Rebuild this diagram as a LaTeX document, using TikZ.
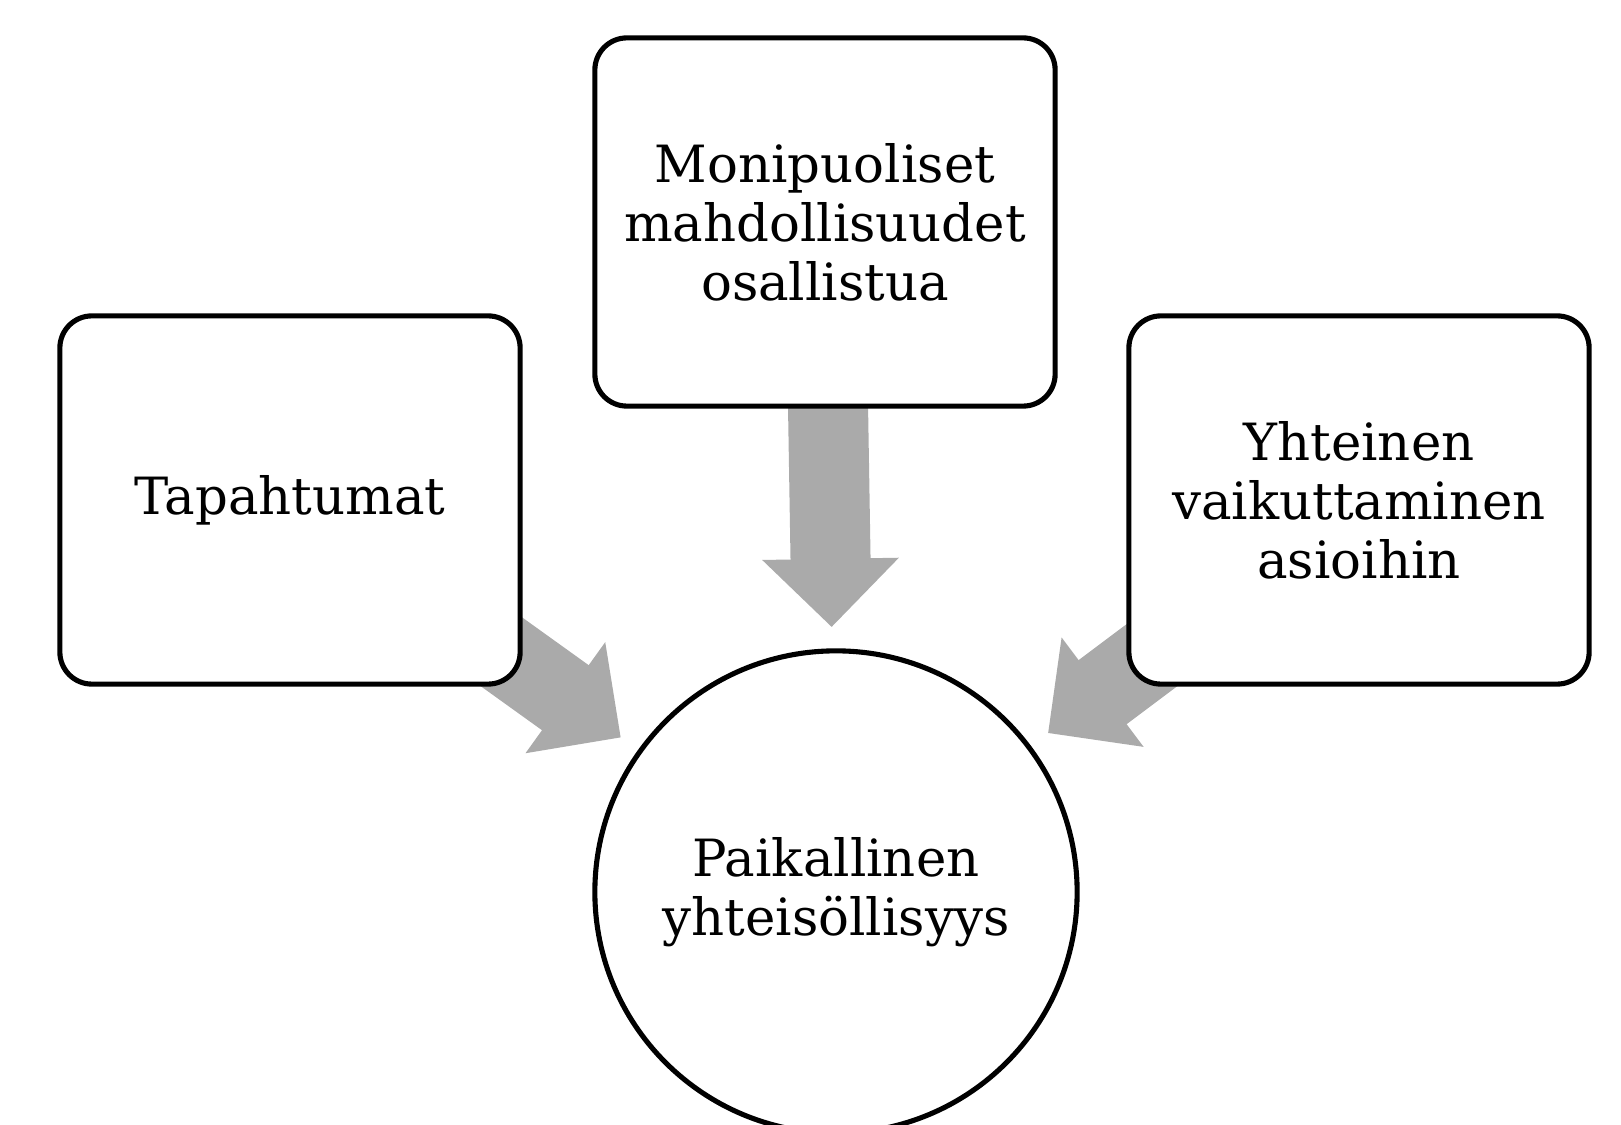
\documentclass[tikz,border=0pt]{standalone}
\usepackage{fontspec}
\setmainfont{DejaVu Serif}
\usetikzlibrary{arrows.meta,backgrounds}
\definecolor{flowgray}{HTML}{AAAAAA}

\begin{document}
\begin{tikzpicture}[x=0.01cm, y=-0.01cm,
        box/.style={draw, line width=1.45pt, rounded corners=0.32cm, fill=white,
            minimum width=4.6cm, minimum height=3.68cm, align=center,
            font=\fontsize{14.6}{16.8}\selectfont},
        hub/.style={draw, circle, line width=1.45pt, fill=white, minimum size=4.82cm,
            align=center, font=\fontsize{14.6}{16.8}\selectfont},
        flow/.style={color=flowgray, line width=0.8cm, shorten >=2.65cm,
            -{Triangle[length=6.8mm, width=13.6mm, line width=1pt]}}]
        \path[use as bounding box, clip] (0,0) rectangle (1621,1125);
        \node[box] (monipuoliset) at (825,222) {Monipuoliset\\mahdollisuudet\\osallistua};
        \node[box] (tapahtumat) at (290,500) {Tapahtumat};
        \node[box] (yhteinen) at (1359,500) {Yhteinen\\vaikuttaminen\\asioihin};
        \node[hub] (paikallinen) at (836,892) {Paikallinen\\yhteisöllisyys};
        \begin{scope}[on background layer]
            \draw[flow] (monipuoliset.center) -- (paikallinen.center);
            \draw[flow] (tapahtumat.center) -- (paikallinen.center);
            \draw[flow] (yhteinen.center) -- (paikallinen.center);
        \end{scope}
    \end{tikzpicture}
\end{document}
